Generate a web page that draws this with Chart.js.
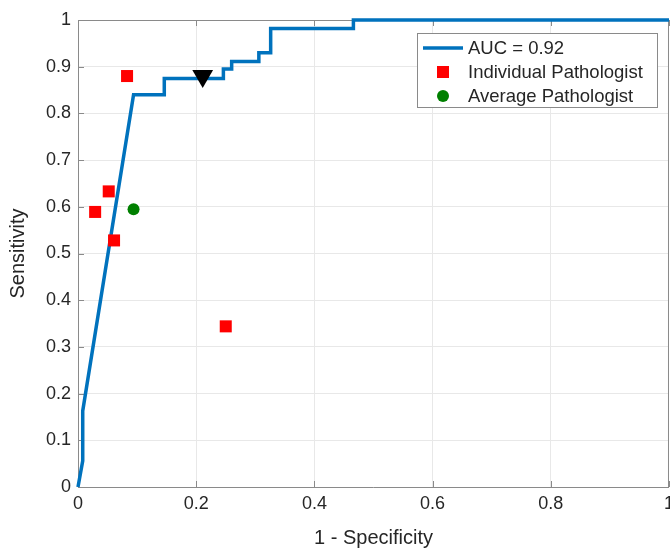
<!DOCTYPE html>
<html>
<head>
<meta charset="utf-8">
<script src="https://cdn.jsdelivr.net/npm/chart.js@4.4.1/dist/chart.umd.min.js"></script>
<style>
  html, body { margin: 0; padding: 0; background: #fff; }
  #wrap { width: 670px; height: 548px; }
</style>
</head>
<body>
<div id="wrap"><canvas id="roc" width="670" height="548"></canvas></div>
<script>
// ROC curve (1 - specificity, sensitivity)
const rocX = [0, 0.008, 0.008, 0.094, 0.146, 0.146, 0.246, 0.246, 0.260, 0.260, 0.306, 0.306, 0.326, 0.326, 0.466, 0.466, 1];
const rocY = [0, 0.056, 0.163, 0.840, 0.840, 0.875, 0.875, 0.895, 0.895, 0.911, 0.911, 0.930, 0.930, 0.982, 0.982, 1, 1];

// individual pathologists
const pathX = [0.083, 0.029, 0.052, 0.061, 0.250];
const pathY = [0.880, 0.589, 0.633, 0.528, 0.344];

// average pathologist
const avgX = [0.094];
const avgY = [0.595];

// operating point on the curve
const opX = [0.211];
const opY = [0.880];

const xTicks = ['0', '0.2', '0.4', '0.6', '0.8', '1'];
const yTicks = ['0', '0.1', '0.2', '0.3', '0.4', '0.5', '0.6', '0.7', '0.8', '0.9', '1'];

const legendLabels = ['AUC = 0.92', 'Individual Pathologist', 'Average Pathologist'];

const toPts = (xs, ys) => xs.map((x, i) => ({ x: x, y: ys[i] }));

const axisColor = '#8a8a8a';
const textColor = '#262626';
const fontFam = '"Liberation Sans", Arial, Helvetica, sans-serif';

// box on top + inward ticks + legend, matlab style
const matlabBits = {
  id: 'matlabBits',
  beforeDatasetsDraw(chart) {
    const ctx = chart.ctx;
    const a = chart.chartArea;
    const xs = chart.scales.x, ys = chart.scales.y;
    ctx.save();
    ctx.strokeStyle = axisColor;
    ctx.lineWidth = 1;
    ctx.beginPath();
    ctx.moveTo(a.left, a.top + 0.5);
    ctx.lineTo(a.right, a.top + 0.5);
    ctx.moveTo(a.right - 0.5, a.top);
    ctx.lineTo(a.right - 0.5, a.bottom);
    xTicks.forEach(t => {
      const px = Math.round(xs.getPixelForValue(parseFloat(t))) + 0.5;
      ctx.moveTo(px, a.bottom); ctx.lineTo(px, a.bottom - 6);
      ctx.moveTo(px, a.top); ctx.lineTo(px, a.top + 6);
    });
    yTicks.forEach(t => {
      const py = Math.round(ys.getPixelForValue(parseFloat(t))) + 0.5;
      ctx.moveTo(a.left, py); ctx.lineTo(a.left + 6, py);
    });
    ctx.stroke();
    ctx.restore();
  },
  afterDraw(chart) {
    const ctx = chart.ctx;
    ctx.save();
    // legend
    const bx = 417, by = 33, bw = 240, bh = 74;
    ctx.fillStyle = '#fff';
    ctx.fillRect(bx, by, bw, bh);
    ctx.strokeStyle = '#8a8a8a';
    ctx.lineWidth = 1;
    ctx.strokeRect(bx + 0.5, by + 0.5, bw, bh);

    const rows = [48, 72, 96];
    const mx = 443;
    ctx.strokeStyle = '#0072BD';
    ctx.lineWidth = 3.5;
    ctx.beginPath();
    ctx.moveTo(423, rows[0]);
    ctx.lineTo(463, rows[0]);
    ctx.stroke();
    ctx.fillStyle = '#ff0000';
    ctx.fillRect(mx - 6, rows[1] - 6, 12, 12);
    ctx.fillStyle = '#008000';
    ctx.beginPath();
    ctx.arc(mx, rows[2], 6, 0, Math.PI * 2);
    ctx.fill();

    ctx.fillStyle = textColor;
    ctx.font = '18.5px ' + fontFam;
    ctx.textBaseline = 'middle';
    ctx.textAlign = 'left';
    legendLabels.forEach((l, i) => ctx.fillText(l, 468, rows[i] + 1));
    ctx.restore();
  }
};

new Chart(document.getElementById('roc'), {
  type: 'scatter',
  data: {
    datasets: [
      {
        label: legendLabels[0],
        data: toPts(rocX, rocY),
        showLine: true,
        borderColor: '#0072BD',
        borderWidth: 3.5,
        pointRadius: 0,
        fill: false,
        tension: 0,
        clip: false,
        order: 4
      },
      {
        label: legendLabels[1],
        data: toPts(pathX, pathY),
        pointStyle: 'rect',
        pointRadius: 8.5,
        backgroundColor: '#ff0000',
        borderWidth: 0,
        order: 3
      },
      {
        label: legendLabels[2],
        data: toPts(avgX, avgY),
        pointStyle: 'circle',
        pointRadius: 6,
        backgroundColor: '#008000',
        borderWidth: 0,
        order: 2
      },
      {
        label: 'Operating point',
        data: toPts(opX, opY),
        pointStyle: 'triangle',
        rotation: 180,
        pointRadius: 12,
        backgroundColor: '#000',
        borderWidth: 0,
        order: 1
      }
    ]
  },
  options: {
    responsive: false,
    animation: false,
    devicePixelRatio: 1,
    layout: { autoPadding: false, padding: { top: 20, right: 1, left: 0, bottom: 0 } },
    plugins: {
      legend: { display: false },
      tooltip: { enabled: false }
    },
    scales: {
      x: {
        type: 'linear',
        min: 0, max: 1,
        afterFit: s => { s.height = 61; },
        ticks: {
          stepSize: 0.2,
          color: textColor,
          font: { family: fontFam, size: 18 },
          // negative padding + long invisible tick keeps the last label from shrinking the plot
          padding: -4,
          maxRotation: 0,
          callback: (v, i) => xTicks[i]
        },
        grid: { color: '#e8e8e8', drawTicks: true, tickLength: 10, tickColor: 'rgba(0,0,0,0)' },
        border: { color: axisColor },
        title: {
          display: true,
          text: '1 - Specificity',
          color: textColor,
          font: { family: fontFam, size: 20, lineHeight: 1 },
          padding: { top: 0, bottom: 0 }
        }
      },
      y: {
        type: 'linear',
        min: 0, max: 1,
        afterFit: s => { s.width = 78; },
        ticks: {
          stepSize: 0.1,
          color: textColor,
          font: { family: fontFam, size: 18 },
          padding: 7,
          callback: (v, i) => yTicks[i]
        },
        grid: { color: '#e8e8e8', drawTicks: false },
        border: { color: axisColor },
        title: {
          display: true,
          text: 'Sensitivity',
          color: textColor,
          font: { family: fontFam, size: 20 },
          padding: { top: 6, bottom: 0 }
        }
      }
    }
  },
  plugins: [matlabBits]
});
</script>
</body>
</html>
